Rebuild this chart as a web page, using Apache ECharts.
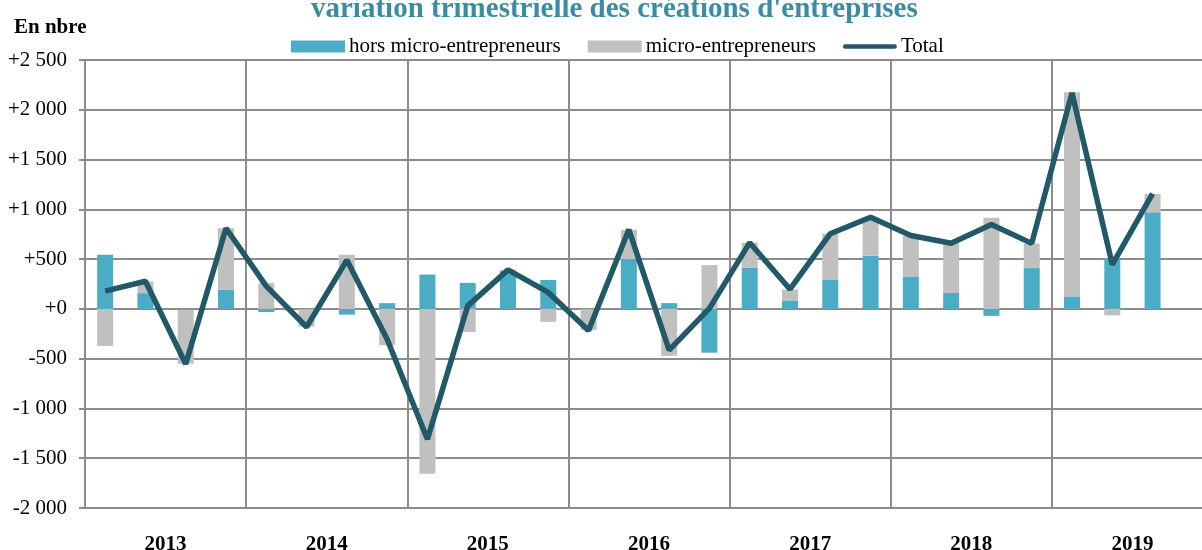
<!DOCTYPE html>
<html>
<head>
<meta charset="utf-8">
<script src="https://cdn.jsdelivr.net/npm/echarts@6/dist/echarts.min.js"></script>
<style>
  html, body { margin: 0; padding: 0; background: #fff; }
  #chart { width: 1202px; height: 550px; }
</style>
</head>
<body>
<div id="chart"></div>
<script>
const YEARS = ['2013', '2014', '2015', '2016', '2017', '2018', '2019'];
const QUARTERS = YEARS.flatMap(y => ['T1', 'T2', 'T3', 'T4'].map(q => y + ' ' + q));

// hors micro-entrepreneurs (teal bars)
const HORS_MICRO = [
    545, 158, -10, 195,
    -32, -3, -58, 58,
    345, 262, 380, 290,
    -3, 500, 58, -440,
    415, 85, 295, 535,
    325, 160, -70, 410,
    125, 505, 970
];
// micro-entrepreneurs (grey bars)
const MICRO = [
    -372, 117, -540, 615,
    258, -175, 545, -365,
    -1655, -232, 10, -130,
    -210, 295, -472, 440,
    250, 110, 460, 385,
    410, 500, 915, 245,
    2050, -65, 185
];
// Total (line)
const TOTAL = [
    178, 278, -553, 810,
    228, -182, 490, -305,
    -1310, 30, 392, 165,
    -218, 797, -415, 5,
    665, 198, 755, 920,
    737, 660, 848, 658,
    2170, 445, 1158
];

const FONT = '"Liberation Serif", "Times New Roman", serif';
const GRID_COLOR = '#8c8c8c';
const LINE_ICON = 'path://M2,0 L54,0 A2.5,2.5 0 0 1 54,5 L2,5 A2.5,2.5 0 0 1 2,0 Z';

function fmtY(v) {
    const s = Math.abs(v).toString().replace(/\B(?=(\d{3})+(?!\d))/g, ' ');
    return (v < 0 ? '-' : '+') + s;
}

const chart = echarts.init(document.getElementById('chart'), null, { renderer: 'canvas' });

chart.setOption({
    animation: false,
    textStyle: { fontFamily: FONT },
    title: [
        {
            text: "variation trimestrielle des créations d'entreprises",
            left: 306, top: -10,
            textStyle: { fontFamily: FONT, fontSize: 29, fontWeight: 'bold', color: '#3a8ca3' }
        },
        {
            text: 'En nbre',
            left: 9, top: 12,
            textStyle: { fontFamily: FONT, fontSize: 21, fontWeight: 'bold', color: '#000' }
        }
    ],
    legend: {
        left: 286, top: 31,
        itemWidth: 54, itemHeight: 12, itemGap: 27,
        textStyle: { fontFamily: FONT, fontSize: 21, color: '#000', padding: [0, 0, 0, -1] },
        data: [
            { name: 'hors micro-entrepreneurs', icon: 'rect' },
            { name: 'micro-entrepreneurs', icon: 'rect' },
            { name: 'Total', icon: LINE_ICON }
        ]
    },
    // the plot runs a little past the right edge of the picture, as in the source
    grid: { left: 85, right: -11, top: 60, bottom: 42, containLabel: false, outerBoundsMode: 'none' },
    xAxis: [
        { type: 'category', data: QUARTERS, show: false },
        {
            type: 'category', data: YEARS, position: 'bottom',
            axisLine: { show: true, lineStyle: { color: GRID_COLOR, width: 2 } },
            axisTick: { show: false },
            axisLabel: { margin: 26, fontFamily: FONT, fontSize: 21, fontWeight: 'bold', color: '#000' },
            splitLine: { show: true, interval: 0, lineStyle: { color: GRID_COLOR, width: 2 } }
        }
    ],
    yAxis: {
        type: 'value', min: -2000, max: 2500, interval: 500,
        axisLine: { show: true, lineStyle: { color: GRID_COLOR, width: 2 } },
        axisTick: { show: true, length: 6, lineStyle: { color: GRID_COLOR, width: 2 } },
        axisLabel: { margin: 18, fontFamily: FONT, fontSize: 21, color: '#000', formatter: fmtY },
        splitLine: { lineStyle: { color: GRID_COLOR, width: 2 } }
    },
    series: [
        {
            name: 'hors micro-entrepreneurs', type: 'bar', stack: 'a', xAxisIndex: 0,
            barWidth: 16, data: HORS_MICRO, itemStyle: { color: '#4bacc6' }
        },
        {
            name: 'micro-entrepreneurs', type: 'bar', stack: 'a', xAxisIndex: 0,
            barWidth: 16, data: MICRO, itemStyle: { color: '#c0c0c0' }
        },
        {
            name: 'Total', type: 'line', xAxisIndex: 0, data: TOTAL, z: 5,
            symbol: 'none', lineStyle: { color: '#215968', width: 5.5 }, itemStyle: { color: '#215968' }
        }
    ]
});
</script>
</body>
</html>
